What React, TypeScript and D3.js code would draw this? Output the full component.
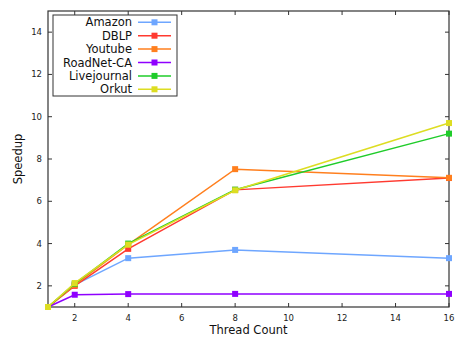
import React from "react";
import * as d3 from "d3";

const threads = [1, 2, 4, 8, 16];
const seriesNames = ["Amazon", "DBLP", "Youtube", "RoadNet-CA", "Livejournal", "Orkut"];
const amazon = [1, 2.05, 3.31, 3.7, 3.31];
const dblp = [1, 2.0, 3.75, 6.54, 7.1];
const youtube = [1, 2.05, 3.95, 7.52, 7.11];
const roadnet = [1, 1.58, 1.61, 1.62, 1.62];
const livejournal = [1, 2.1, 4.0, 6.55, 9.2];
const orkut = [1, 2.13, 3.95, 6.52, 9.7];
const xTicks = [2, 4, 6, 8, 10, 12, 14, 16];
const yTicks = [2, 4, 6, 8, 10, 12, 14];
const colors = ["#6ea6ff", "#ff3a30", "#ff7f1e", "#8f00ff", "#1fcc2a", "#dddd22"];

const W = 458, H = 339;
const L = 48, R = 449, T = 11, B = 307;

export default function App() {
  const data = [amazon, dblp, youtube, roadnet, livejournal, orkut];
  const x = d3.scaleLinear().domain([1, 16]).range([L, R]);
  const y = d3.scaleLinear().domain([1, 15]).range([B, T]);
  const line = d3.line<number>().x((_, i) => x(threads[i])).y((d) => y(d));
  const font = "DejaVu Sans, sans-serif";
  const ms = 6;
  return (
    <svg width={W} height={H} style={{ position: "absolute", left: 0, top: 0, background: "#fff" }}>
      <rect x={L} y={T} width={R - L} height={B - T} fill="none" stroke="#333" strokeWidth={1.2} />
      {xTicks.map((t) => (
        <g key={"x" + t}>
          <line x1={x(t)} x2={x(t)} y1={B} y2={B - 4} stroke="#333" />
          <line x1={x(t)} x2={x(t)} y1={T} y2={T + 4} stroke="#333" />
          <text x={x(t)} y={B + 14} fontSize={8.5} fontFamily={font} textAnchor="middle" fill="#222">{t}</text>
        </g>
      ))}
      {yTicks.map((t) => (
        <g key={"y" + t}>
          <line x1={L} x2={L + 4} y1={y(t)} y2={y(t)} stroke="#333" />
          <line x1={R} x2={R - 4} y1={y(t)} y2={y(t)} stroke="#333" />
          <text x={L - 6} y={y(t) + 3} fontSize={8.5} fontFamily={font} textAnchor="end" fill="#222">{t}</text>
        </g>
      ))}
      <text x={(L + R) / 2} y={334} fontSize={11.5} fontFamily={font} textAnchor="middle" fill="#111">Thread Count</text>
      <text transform={`translate(22, ${(T + B) / 2}) rotate(-90)`} fontSize={11.5} fontFamily={font} textAnchor="middle" fill="#111">Speedup</text>
      {data.map((s, k) => (
        <g key={"s" + k}>
          <path d={line(s) || ""} fill="none" stroke={colors[k]} strokeWidth={1.5} />
          {s.map((v, i) => (
            <rect key={i} x={x(threads[i]) - ms / 2} y={y(v) - ms / 2} width={ms} height={ms} fill={colors[k]} />
          ))}
        </g>
      ))}
      <rect x={53} y={15} width={124} height={81} fill="#fff" stroke="#333" strokeWidth={1} />
      {seriesNames.map((n, k) => {
        const cy = 22.3 + k * 13.4;
        return (
          <g key={"l" + k}>
            <text x={132} y={cy + 4} fontSize={11.5} fontFamily={font} textAnchor="end" fill="#111">{n}</text>
            <line x1={138} x2={171} y1={cy} y2={cy} stroke={colors[k]} strokeWidth={1.5} />
            <rect x={154.5 - ms / 2} y={cy - ms / 2} width={ms} height={ms} fill={colors[k]} />
          </g>
        );
      })}
    </svg>
  );
}
